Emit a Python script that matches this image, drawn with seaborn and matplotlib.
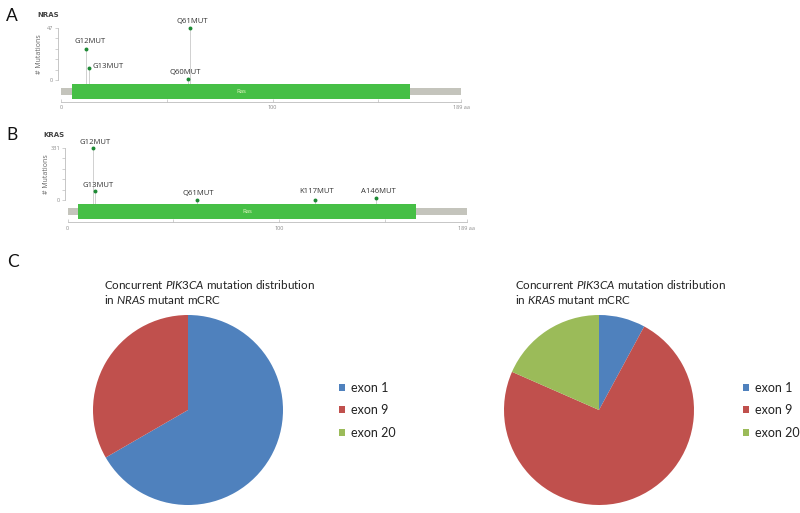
import matplotlib
matplotlib.use("Agg")
import matplotlib.pyplot as plt
from matplotlib.patches import Patch, Rectangle
import seaborn as sns

# protein / domain
protein_len = 189
ras_domain = (5, 165)

# panel A: NRAS hotspots
nras_labels = ["G12MUT", "G13MUT", "Q60MUT", "Q61MUT"]
nras_pos = [12, 13, 60, 61]
nras_counts = [28, 11, 1, 47]

# panel B: KRAS hotspots
kras_labels = ["G12MUT", "G13MUT", "Q61MUT", "K117MUT", "A146MUT"]
kras_pos = [12, 13, 61, 117, 146]
kras_counts = [331, 60, 6, 2, 13]

# panel C: concurrent PIK3CA mutations
exons = ["exon 1", "exon 9", "exon 20"]
nras_pik3ca = [2, 1, 0]
kras_pik3ca = [3, 28, 7]

exon_colors = ["#4F81BD", "#C0504D", "#9BBB59"]

sns.set_style("white")
plt.rcParams["font.family"] = ["Open Sans", "DejaVu Sans"]
plt.rcParams["mathtext.fontset"] = "custom"
plt.rcParams["mathtext.rm"] = "Lato"
plt.rcParams["mathtext.it"] = "Lato:italic"

W, H = 800, 513
fig = plt.figure(figsize=(W / 100, H / 100), dpi=100)


def px_axes(x0, y0, x1, y1):
    return fig.add_axes([x0 / W, 1 - y1 / H, (x1 - x0) / W, (y1 - y0) / H])


ZERO_FRAC = 0.25
TOP_FRAC = 0.855
tick_grey = "#8a8a8a"


def lollipop(ax, gene, pos, counts, labels, offsets):
    ymax = max(counts)
    k = ymax / (TOP_FRAC - ZERO_FRAC)
    ax.set_xlim(0, protein_len)
    ax.set_ylim(-ZERO_FRAC * k, (1 - ZERO_FRAC) * k)
    trans = ax.get_xaxis_transform()

    # backbone + Ras domain
    ax.add_patch(Rectangle((0, 0.078), protein_len, 0.088, transform=trans,
                           facecolor="#c4c4bc", lw=0, zorder=1))
    ax.add_patch(Rectangle((ras_domain[0], 0.038), ras_domain[1] - ras_domain[0], 0.172,
                           transform=trans, facecolor="#46bf46", lw=0, zorder=3))
    ax.text(sum(ras_domain) / 2, 0.122, "Ras", transform=trans, ha="center", va="center",
            fontsize=4.3, color="#eaf7c8", zorder=4)

    stem_base = (0.21 - ZERO_FRAC) * k
    ax.vlines(pos, stem_base, counts, color="#c9c9c9", lw=0.6, zorder=2)
    sns.scatterplot(x=pos, y=counts, ax=ax, color="#1d8a34", s=8, linewidth=0,
                    zorder=5, legend=False)
    for x, c, lab, (dx, dy, ha) in zip(pos, counts, labels, offsets):
        ax.annotate(lab, (x, c), xytext=(dx, dy), textcoords="offset points",
                    ha=ha, va="baseline", fontsize=5.5, color="#333333")

    # axes styling
    for s in ["top", "right"]:
        ax.spines[s].set_visible(False)
    ax.spines["left"].set_bounds(0, ymax)
    ax.spines["left"].set_position(("outward", 2))
    ax.spines["bottom"].set_bounds(0, protein_len)
    for s in ["left", "bottom"]:
        ax.spines[s].set_color("#bdbdbd")
        ax.spines[s].set_linewidth(0.6)
    ax.set_yticks([0, ymax])
    ax.set_yticks([ymax * i / 5 for i in range(1, 5)], minor=True)
    ax.set_xticks([0, 50, 100, 150, protein_len])
    ax.set_xticklabels(["0", "", "100", "", "189 aa"])
    ax.tick_params(axis="y", which="both", direction="out", length=2, width=0.5,
                   color="#bdbdbd", labelsize=4, labelcolor=tick_grey, pad=1.5, left=True)
    ax.tick_params(axis="x", direction="in", length=2, width=0.5, color="#bdbdbd",
                   labelsize=4, labelcolor=tick_grey, pad=2.5, bottom=True)
    ax.set_ylabel("# Mutations", fontsize=5, color="#666666")
    ax.yaxis.set_label_coords(-0.045, 0.55)
    ax.grid(False)
    ax.patch.set_alpha(0)
    ax.text(-0.06, 1.0, gene, transform=ax.transAxes, fontsize=5, fontweight="bold",
            color="#444444", ha="left", va="center", family="DejaVu Sans")


axA = px_axes(61, 15, 461, 102)
lollipop(axA, "NRAS", nras_pos, nras_counts, nras_labels,
         [(2.6, 4.3, "center"), (2.7, 0.3, "left"), (-1.9, 3.8, "center"), (1.4, 3.6, "center")])

axB = px_axes(67.7, 135, 467, 222.3)
lollipop(axB, "KRAS", kras_pos, kras_counts, kras_labels,
         [(1.6, 2.7, "center"), (2.3, 2.9, "center"), (1.5, 3.6, "center"),
          (1.4, 4.8, "center"), (1.4, 3.9, "center")])

# panel letters
for letter, x, y in [("A", 6, 16), ("B", 6.5, 135), ("C", 7, 262)]:
    fig.text(x / W, 1 - y / H, letter, fontsize=12.5, va="center", ha="left",
             family="Lato", color="#111111")


def pie_panel(cx, values, gene, legend_x):
    ax = px_axes(cx - 95, 315, cx + 95, 505)
    ax.pie(values, colors=exon_colors, startangle=90, counterclock=False,
           wedgeprops=dict(linewidth=0))
    ax.set_xlim(-1, 1)
    ax.set_ylim(-1, 1)
    ax.set_aspect("equal")
    tx = (cx - 84) / W
    fig.text(tx, 1 - 289 / H, r"Concurrent $\mathit{PIK3CA}$ mutation distribution",
             fontsize=8.35, family="Lato", va="baseline", ha="left", color="#222222")
    fig.text(tx, 1 - 303.5 / H, r"in $\mathit{" + gene + r"}$ mutant mCRC",
             fontsize=8.35, family="Lato", va="baseline", ha="left", color="#222222")
    handles = [Patch(facecolor=c, edgecolor="none") for c in exon_colors]
    fig.legend(handles, exons, loc="upper left",
               bbox_to_anchor=(legend_x / W, 1 - 381.5 / H), frameon=False,
               prop=dict(family="Lato", size=9), handlelength=0.5, handleheight=0.5,
               handletextpad=0.45, labelspacing=0.85, borderpad=0, borderaxespad=0,
               labelcolor="#222222")


pie_panel(188, nras_pik3ca, "NRAS", 339)
pie_panel(599, kras_pik3ca, "KRAS", 743)

fig.savefig("out.png", dpi=100)
